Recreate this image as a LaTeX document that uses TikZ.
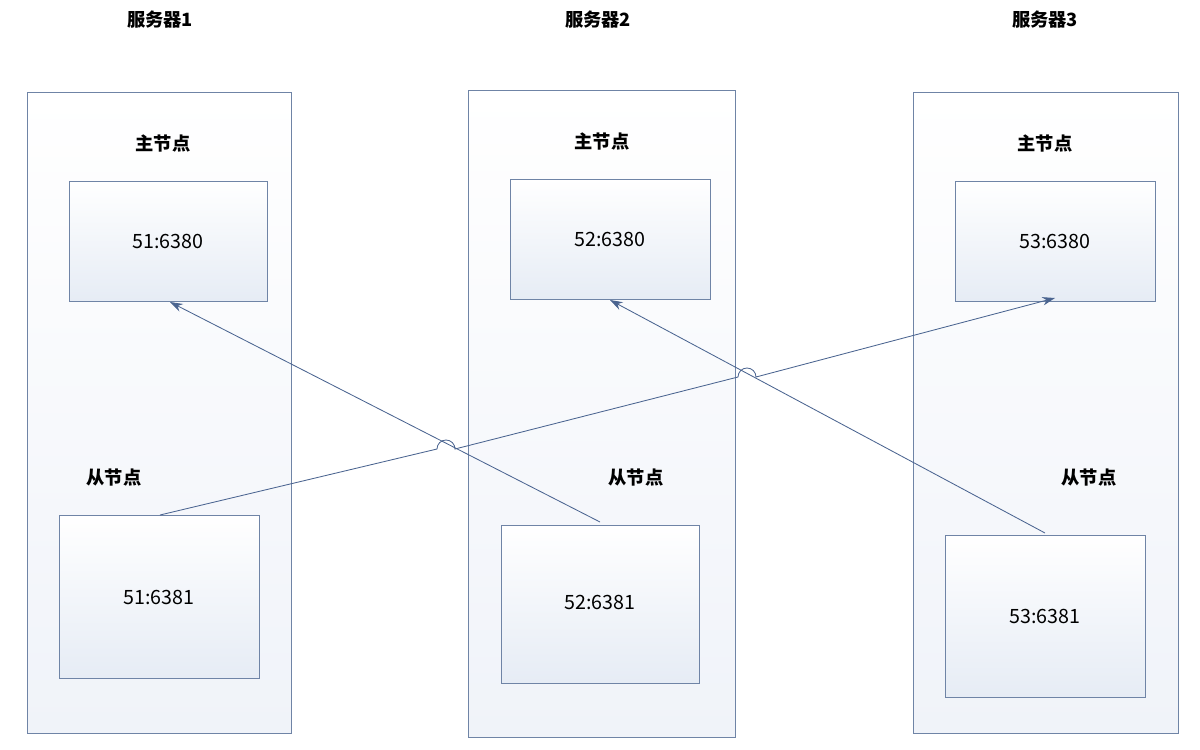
\documentclass[tikz,border=0pt]{standalone}
\usepackage{fontspec}
\setmainfont{Noto Sans CJK SC}
\usetikzlibrary{arrows.meta}
\definecolor{edge}{HTML}{6F84A6}
\definecolor{arrc}{HTML}{4A6490}
\definecolor{fillb}{HTML}{E6ECF5}
\definecolor{fills}{HTML}{F0F3F9}
\begin{document}
\begin{tikzpicture}[x=0.025cm,y=-0.025cm,
  srv/.style={draw=edge,line width=0.5pt,top color=white,bottom color=fills},
  nd/.style={draw=edge,line width=0.5pt,top color=white,bottom color=fillb},
  lbl/.style={font=\fontsize{13pt}{15pt}\selectfont\bfseries},
  val/.style={font=\fontsize{14pt}{16pt}\selectfont},
  arr/.style={draw=arrc,line width=0.6pt,-{Stealth[length=9pt,width=6pt]}}]
\useasboundingbox (0,0) rectangle (1200,749);
\fill[white] (0,0) rectangle (1200,749);
\draw[srv] (27,92) rectangle (291,733) coordinate (s1);
\draw[srv] (468,90) rectangle (735,737) coordinate (s2);
\draw[srv] (913,92) rectangle (1178,733) coordinate (s3);
\node[lbl] (t1) at (160,20) {服务器1};
\node[lbl] (t2) at (598,20) {服务器2};
\node[lbl] (t3) at (1045,20) {服务器3};
\node[lbl] (z1) at (163,143) {主节点};
\node[lbl] (z2) at (602,141) {主节点};
\node[lbl] (z3) at (1045,143) {主节点};
\node[lbl] (c1) at (114,478) {从节点};
\node[lbl] (c2) at (636,478) {从节点};
\node[lbl] (c3) at (1089,478) {从节点};
\draw[nd] (69,181) rectangle (267,301);
\node[val] (m1) at (168,241) {51:6380};
\draw[nd] (510,179) rectangle (710,299);
\node[val] (m2) at (610,239) {52:6380};
\draw[nd] (955,181) rectangle (1155,301);
\node[val] (m3) at (1055,241) {53:6380};
\draw[nd] (59,515) rectangle (259,678);
\node[val] (l1) at (159,597) {51:6381};
\draw[nd] (501,525) rectangle (699,683);
\node[val] (l2) at (600,602) {52:6381};
\draw[nd] (945,535) rectangle (1145,697);
\node[val] (l3) at (1045,616) {53:6381};
\coordinate (a1) at (160,515);
\coordinate (a2) at (600,522);
\coordinate (a3) at (1045,533);
\coordinate (b1) at (170,302);
\coordinate (b2) at (610,300);
\coordinate (b3) at (1055,298);
\draw[arr] (a2) -- (b1);
\draw[arr] (a3) -- (b2);
\draw[arr] (a1) -- (437,449) arc (180:360:9) -- (738,377) arc (180:360:9) -- (b3);
\end{tikzpicture}
\end{document}
